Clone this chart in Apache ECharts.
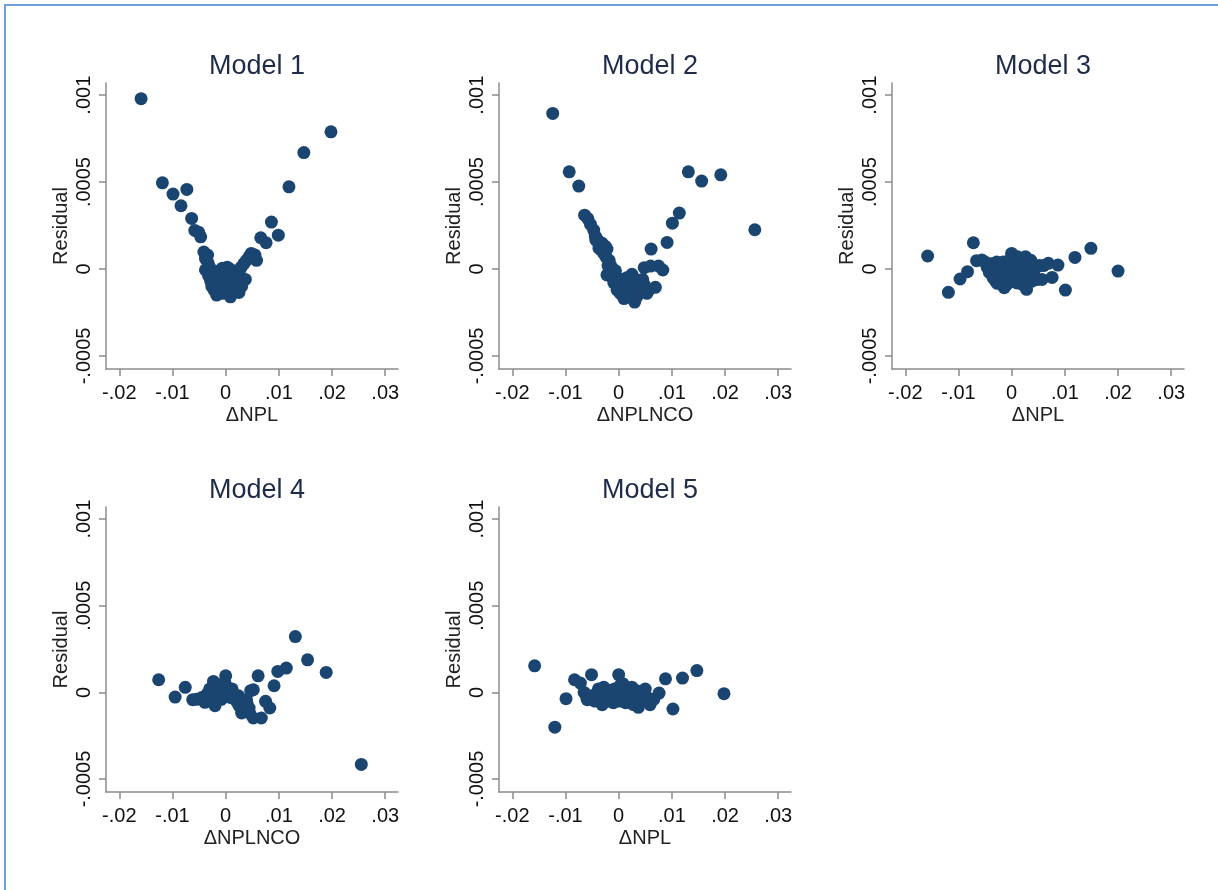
<!DOCTYPE html>
<html>
<head>
<meta charset="utf-8">
<script src="https://cdn.jsdelivr.net/npm/echarts@6/dist/echarts.min.js"></script>
<style>
html,body{margin:0;padding:0;background:#fff;}
#chart{width:1218px;height:890px;}
</style>
</head>
<body>
<div id="chart"></div>
<script>
// ---- data ----
const titles = ['Model 1', 'Model 2', 'Model 3', 'Model 4', 'Model 5'];
const xNames = ['ΔNPL', 'ΔNPLNCO', 'ΔNPL', 'ΔNPLNCO', 'ΔNPL'];
const yName = 'Residual';
const xTicks = [-0.02, -0.01, 0, 0.01, 0.02, 0.03];
const xTickLabels = ['-.02', '-.01', '0', '.01', '.02', '.03'];
const yTicks = [-0.0005, 0, 0.0005, 0.001];
const yTickLabels = ['-.0005', '0', '.0005', '.001'];

const model1 = [
  [-0.0159, 0.00098], [-0.0119, 0.000496], [-0.0099, 0.000431], [-0.0073, 0.000458],
  [-0.0084, 0.000364], [-0.0064, 0.000291], [-0.0058, 0.000222], [-0.0051, 0.000212],
  [-0.0047, 0.000185], [-0.0041, 0.000098], [-0.0034, 0.00008], [-0.0038, 0.00006],
  [-0.0033, 0.000035], [-0.0030, 0.00001], [-0.0038, -0.000005], [-0.0032, -0.00004],
  [-0.0028, -0.00007], [-0.0026, -0.0001], [-0.0022, -0.00012], [-0.0017, -0.00015],
  [-0.0012, -0.00013], [-0.0020, -0.00003], [-0.0015, -0.00007], [-0.0010, -0.0001],
  [-0.0008, -0.00003], [-0.0005, -0.00009], [-0.0002, -0.00012], [0.0000, -0.00005],
  [0.0002, -0.00002], [0.0004, -0.0001], [0.0007, -0.00014], [0.0009, -0.00016],
  [0.0012, -0.00011], [0.0010, -0.00006], [0.0014, -0.00003], [0.0017, -0.00008],
  [0.0020, -0.00012], [0.0025, -0.000135], [0.0022, -0.00005], [0.0026, -0.00001],
  [0.0029, 0.00001], [0.0031, -0.00006], [0.0034, 0.00003], [0.0037, -0.00006],
  [0.0039, 0.00005], [0.0044, 0.00007], [0.0048, 0.00009], [0.0055, 0.00008],
  [0.0058, 0.00005], [-0.0006, 0.000005], [0.0003, 0.00001], [-0.0012, -0.00001],
  [0.0008, 0.0], [0.0066, 0.00018], [0.0076, 0.000151], [0.0086, 0.00027],
  [0.0099, 0.000195], [0.0119, 0.000473], [0.0147, 0.00067], [0.0198, 0.000789],
  [-0.0024, -0.00008], [-0.0006, -0.00014], [0.0015, -0.00013], [0.0030, -0.0001],
  [-0.0016, -0.00011], [0.0005, -0.00007], [0.0019, -0.00002], [-0.0004, -0.00005]
];
const model2 = [
  [-0.0124, 0.000895], [-0.0093, 0.000559], [-0.0075, 0.000477], [-0.0064, 0.00031],
  [-0.0058, 0.00029], [-0.0053, 0.000257], [-0.0047, 0.000224], [-0.0044, 0.00019],
  [-0.0043, 0.000167], [-0.0038, 0.00015], [-0.0031, 0.000148], [-0.0037, 0.00012],
  [-0.0025, 0.00013], [-0.0022, 0.000115], [-0.0028, 0.00009], [-0.0024, 0.00007],
  [-0.0018, 0.00005], [-0.0015, 0.00002], [-0.0011, 0.0], [-0.0006, -0.00001],
  [-0.0022, -0.000034], [-0.0016, -0.00002], [-0.0012, -0.00005], [-0.0009, -0.00008],
  [-0.0004, -0.00006], [0.0000, -0.0001], [0.0003, -0.00014], [0.0008, -0.00012],
  [0.0012, -0.00009], [0.0016, -0.00015], [0.0020, -0.00013], [0.0023, -0.00008],
  [0.0027, -0.00016], [0.0030, -0.00019], [0.0032, -0.00006], [0.0035, -0.00012],
  [0.0038, -0.00009], [0.0041, -0.00013], [0.0045, -0.00006], [0.0048, -0.00009],
  [0.0053, -0.00014], [0.0057, -0.00012], [0.0069, -0.000105], [0.0048, 0.0000077],
  [0.0060, 0.000017], [0.0075, 0.000017], [0.0083, -0.0000057], [0.0061, 0.000115],
  [0.0091, 0.000153], [0.0101, 0.000264], [0.0114, 0.000322], [0.0131, 0.000559],
  [0.0156, 0.000506], [0.0192, 0.000542], [0.0256, 0.000226],
  [0.0015, -0.00005], [0.0025, -0.00003], [-0.0003, -0.00012], [0.0010, -0.00017],
  [-0.0020, 0.00002], [-0.0013, -0.00003], [0.0005, -0.00006], [0.0019, -0.00011],
  [0.0034, -0.00016], [0.0044, -0.00011], [-0.0033, 0.00011], [-0.0040, 0.00017]
];
const model3 = [
  [-0.0158, 0.000075], [-0.0072, 0.000151], [-0.0119, -0.000134], [-0.0097, -0.0000575],
  [-0.0083, -0.000015], [-0.0066, 0.000048], [-0.0056, 0.000052], [-0.0050, 0.00004],
  [-0.0046, 0.00001], [-0.0042, -0.00002], [-0.0038, 0.00003], [-0.0035, -0.00005],
  [-0.0030, -0.00007], [-0.0027, -0.000082], [-0.0024, 0.00002], [-0.0020, -0.00003],
  [-0.0016, 0.00004], [-0.0014, -0.000107], [-0.0012, -0.00006], [-0.0008, 0.00001],
  [-0.0005, -0.00004], [-0.0002, 0.00006], [0.0000, 0.00009], [0.0003, -0.00002],
  [0.0005, 0.00003], [0.0008, -0.00006], [0.0011, 0.00007], [0.0014, 0.0],
  [0.0017, -0.00005], [0.0020, 0.00004], [0.0023, -0.00002], [0.0026, 0.00007],
  [0.0028, -0.000117], [0.0030, -0.00007], [0.0033, 0.00001], [0.0036, 0.00005],
  [0.0040, -0.00004], [0.0044, 0.0], [0.0048, -0.00006], [0.0052, 0.00002],
  [0.0057, -0.00006], [0.0060, 0.00002], [0.0069, 0.000033], [0.0076, -0.000048],
  [0.0087, 0.000023], [0.0101, -0.000121], [0.0119, 0.000067], [0.0149, 0.000119],
  [0.0200, -0.0000115], [-0.0010, -0.00009], [0.0010, -0.00008], [-0.0032, 0.0],
  [0.0015, 0.00005], [-0.0028, 0.00004], [-0.0006, -0.00008], [0.0021, -0.00009],
  [0.0038, -0.00007], [0.0001, 0.00003], [-0.0018, -0.00006], [0.0030, 0.00004]
];
const model4 = [
  [-0.0126, 0.000073], [-0.0095, -0.000027], [-0.0076, 0.000029], [-0.0062, -0.000042],
  [-0.0055, -0.00004], [-0.0045, -0.00003], [-0.0039, -0.0000575], [-0.0035, -0.00001],
  [-0.0030, 0.00002], [-0.0027, -0.00005], [-0.0023, 0.000063], [-0.0020, -0.0000766],
  [-0.0018, 0.00003], [-0.0015, -0.00002], [-0.0012, 0.00004], [-0.0008, -0.00004],
  [-0.0005, 0.00001], [-0.0002, 0.00006], [0.0000, 0.0000958], [0.0003, 0.00003],
  [0.0006, -0.00001], [0.0010, -0.00003], [0.0014, -0.0000038], [0.0018, -0.00004],
  [0.0022, -0.00006], [0.0026, -0.00008], [0.0030, -0.000119], [0.0033, -0.00005],
  [0.0039, -0.0000421], [0.0044, -0.00009], [0.0047, 0.00001], [0.0052, 0.0000153],
  [0.0052, -0.000148], [0.0061, 0.0000958], [0.0067, -0.000148], [0.0075, -0.0000517],
  [0.0083, -0.00009], [0.0091, 0.0000383], [0.0098, 0.000121], [0.0114, 0.00014],
  [0.0131, 0.000322], [0.0154, 0.000188], [0.0189, 0.000115], [0.0255, -0.000416],
  [0.0036, -0.0001], [0.0012, 0.00002], [-0.0010, 0.0], [0.0045, -0.00012],
  [-0.0025, 0.00001], [-0.0004, 0.00004], [0.0008, 0.00001], [-0.0015, 0.00002],
  [0.0024, -0.00002], [0.0040, -0.00006]
];
const model5 = [
  [-0.0158, 0.000153], [-0.0120, -0.000201], [-0.0099, -0.0000364], [-0.0083, 0.0000728],
  [-0.0072, 0.0000536], [-0.0065, 0.0], [-0.0060, -0.00003], [-0.0059, -0.0000421],
  [-0.0051, 0.000102], [-0.0050, -0.00002], [-0.0045, -0.00005], [-0.0040, 0.0],
  [-0.0035, -0.00004], [-0.0031, -0.0000709], [-0.0028, 0.00003], [-0.0025, -0.00002],
  [-0.0020, -0.00005], [-0.0017, 0.00001], [-0.0012, -0.00003], [-0.0008, 0.00002],
  [-0.0004, -0.00001], [0.0000, 0.000102], [0.0003, 0.00004], [0.0006, -0.00004],
  [0.0010, 0.0], [0.0013, -0.00006], [0.0017, 0.00002], [0.0021, -0.00005],
  [0.0025, 0.00003], [0.0029, -0.00002], [0.0033, -0.00007], [0.0037, -0.0000862],
  [0.0040, 0.0], [0.0045, -0.00004], [0.0050, 0.0000192], [0.0054, -0.00003],
  [0.0059, -0.0000709], [0.0066, -0.00004], [0.0076, -0.0000038], [0.0088, 0.0000785],
  [0.0102, -0.0000958], [0.0120, 0.0000824], [0.0147, 0.000126], [0.0198, -0.0000077],
  [-0.0038, 0.00002], [-0.0022, 0.00001], [0.0001, -0.00005], [0.0019, -0.00002],
  [0.0034, 0.00001], [-0.0010, -0.00006], [0.0027, -0.00007], [0.0008, 0.00005]
];
const modelData = [model1, model2, model3, model4, model5];

// ---- layout ----
const panels = [
  {left: 106, top: 83, height: 286},
  {left: 499, top: 83, height: 286},
  {left: 892, top: 83, height: 286},
  {left: 106, top: 507, height: 285},
  {left: 499, top: 507, height: 285}
];
const panelW = 292;
const xMin = -0.0225, xMax = 0.0324;
const yMin = -0.000575, yMax = 0.00107;
const navy = '#1b4571';
const axisGrey = '#8c8c8c';
const font = 'Liberation Sans, Arial, sans-serif';

function lookup(ticks, labels) {
  return function (v) {
    for (let i = 0; i < ticks.length; i++) {
      if (Math.abs(ticks[i] - v) < 1e-9) return labels[i];
    }
    return '';
  };
}

const grid = [], xAxis = [], yAxis = [], series = [], title = [];
panels.forEach((p, i) => {
  grid.push({left: p.left, top: p.top, width: panelW, height: p.height, containLabel: false});
  title.push({
    text: titles[i], left: p.left + panelW / 2, top: p.top - 35, textAlign: 'center',
    textStyle: {fontFamily: font, fontSize: 27, fontWeight: 'normal', color: '#1e2c4a'}
  });
  xAxis.push({
    type: 'value', gridIndex: i, min: xMin, max: xMax,
    name: xNames[i], nameLocation: 'middle', nameGap: 36,
    nameTextStyle: {fontFamily: font, fontSize: 20, color: '#222'},
    axisLine: {show: true, onZero: false, lineStyle: {color: axisGrey, width: 1.5}},
    axisTick: {show: true, length: 7, customValues: xTicks, lineStyle: {color: axisGrey, width: 1.5}},
    axisLabel: {show: true, customValues: xTicks, formatter: lookup(xTicks, xTickLabels),
      margin: 14, fontFamily: font, fontSize: 20, color: '#111', hideOverlap: false},
    splitLine: {show: false}
  });
  yAxis.push({
    type: 'value', gridIndex: i, min: yMin, max: yMax,
    name: yName, nameLocation: 'middle', nameGap: 35, nameRotate: 90,
    nameTextStyle: {fontFamily: font, fontSize: 20, color: '#222'},
    axisLine: {show: true, onZero: false, lineStyle: {color: axisGrey, width: 1.5}},
    axisTick: {show: true, length: 7, customValues: yTicks, lineStyle: {color: axisGrey, width: 1.5}},
    axisLabel: {show: true, customValues: yTicks, formatter: lookup(yTicks, yTickLabels),
      rotate: 90, margin: 12, fontFamily: font, fontSize: 20, color: '#111', hideOverlap: false},
    splitLine: {show: false}
  });
  series.push({
    type: 'scatter', xAxisIndex: i, yAxisIndex: i, data: modelData[i],
    symbol: 'circle', symbolSize: 13, itemStyle: {color: navy, opacity: 1},
    emphasis: {disabled: true}
  });
});

const chart = echarts.init(document.getElementById('chart'), null, {renderer: 'canvas'});
chart.setOption({
  backgroundColor: '#fff',
  animation: false,
  title: title,
  grid: grid,
  xAxis: xAxis,
  yAxis: yAxis,
  series: series,
  graphic: [{
    type: 'rect', shape: {x: 5, y: 5, width: 1400, height: 1000}, silent: true,
    style: {fill: 'none', stroke: '#6fa0dc', lineWidth: 2}
  }]
});
</script>
</body>
</html>
